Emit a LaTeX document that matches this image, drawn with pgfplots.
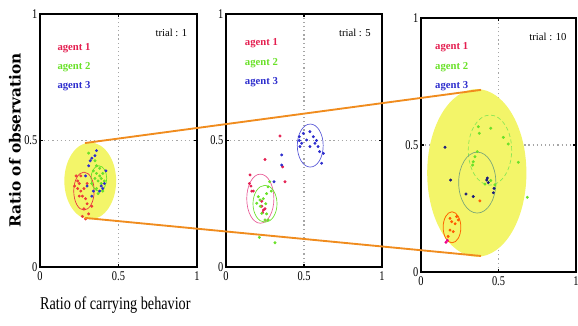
\documentclass[border=0pt]{standalone}
\usepackage{graphicx}
\usepackage{fontspec}
\setmainfont{Liberation Serif}
\newfontfamily\labelfont{DejaVu Serif}
\usepackage{pgfplots}
\pgfplotsset{compat=1.18}

\definecolor{agentA}{RGB}{228,30,80}
\definecolor{agentB}{RGB}{105,225,40}
\definecolor{agentC}{RGB}{45,45,205}
\definecolor{highlight}{RGB}{243,245,105}
\definecolor{connector}{RGB}{240,140,30}
\definecolor{ringA}{RGB}{232,90,150}
\definecolor{ringC}{RGB}{120,165,120}

\newcommand{\tl}[1]{\scalebox{0.78}[1]{#1}}

\tikzset{
  legtext/.style={anchor=west, font=\fontsize{8}{9}\selectfont\bfseries, inner sep=0pt},
  trialtext/.style={anchor=east, font=\fontsize{8}{9}\selectfont, inner sep=0pt},
}

\pgfplotsset{
  panel/.style={
    scale only axis,
    xmin=0, xmax=1, ymin=0, ymax=1,
    xtick={0,0.5,1}, ytick={0,0.5,1},
    xticklabels={\tl{0},\tl{0.5},\tl{1}},
    yticklabels={\tl{0},\tl{0.5},\tl{1}},
    ticklabel style={font=\fontsize{10}{11}\selectfont},
    yticklabel style={xshift=1.5pt},
    grid=major,
    grid style={gray!70, line width=0.9pt, dash pattern=on 0.9pt off 2.2pt},
    axis line style={line width=1.3pt},
    tick style={black, line width=1.2pt},
    major tick length=2pt,
    tick align=inside,
    clip=false,
  },
  agent/.style={only marks, mark=*, mark size=0.9pt, color=#1},
}

\begin{document}
\begin{tikzpicture}
\path[use as bounding box] (0,0) rectangle (433.5pt,243.75pt);

% ---------------- trial 1 ----------------
\begin{axis}[panel, at={(30pt,43.5pt)}, anchor=south west,
  width=117.75pt, height=189.75pt]
  \fill[highlight] (axis cs:0.32,0.34) ellipse [x radius=0.165, y radius=0.152];
  \draw[agentA!80!orange, line width=0.5pt] (axis cs:0.28,0.30) ellipse [x radius=0.065, y radius=0.075];
  \draw[agentB, line width=0.5pt] (axis cs:0.375,0.35) ellipse [x radius=0.05, y radius=0.05];
  \addplot[agent=agentA!70!orange] coordinates {
    (0.23,0.36) (0.24,0.34) (0.22,0.32) (0.24,0.31) (0.25,0.33) (0.26,0.30)
    (0.27,0.28) (0.25,0.28) (0.28,0.31) (0.29,0.27) (0.30,0.25) (0.28,0.23)
    (0.31,0.21) (0.29,0.19) (0.27,0.20) (0.33,0.24) (0.26,0.36) (0.30,0.33)
  };
  \addplot[agent=agentB] coordinates {
    (0.34,0.38) (0.36,0.40) (0.38,0.39) (0.40,0.37) (0.35,0.35) (0.37,0.34)
    (0.39,0.33) (0.36,0.31) (0.41,0.34) (0.33,0.33) (0.38,0.36) (0.35,0.42)
    (0.31,0.45) (0.40,0.30) (0.37,0.29) (0.36,0.37) (0.39,0.35)
  };
  \addplot[agent=agentC] coordinates {
    (0.32,0.42) (0.33,0.43) (0.35,0.44) (0.31,0.40) (0.39,0.32) (0.40,0.31)
    (0.38,0.30) (0.41,0.33) (0.30,0.32) (0.34,0.30) (0.42,0.38) (0.36,0.46)
    (0.29,0.36) (0.33,0.28)
  };
  \node[legtext, text=agentA] at (rel axis cs:0.11,0.866) {agent 1};
  \node[legtext, text=agentB] at (rel axis cs:0.11,0.79) {agent 2};
  \node[legtext, text=agentC] at (rel axis cs:0.11,0.715) {agent 3};
  \node[trialtext] at (rel axis cs:0.94,0.925) {trial : 1};
  \coordinate (startTop) at (axis cs:0.287,0.49);
  \coordinate (startBot) at (axis cs:0.287,0.194);
  \node[rotate=90, font=\labelfont\bfseries\fontsize{11.5}{13}\selectfont]
    at (rel axis cs:-0.16,0.5) {Ratio of observation};
  \node[font=\fontsize{13.5}{15}\selectfont]
    at (rel axis cs:0.48,-0.15) {\scalebox{0.79}[1]{Ratio of carrying behavior}};
\end{axis}

% ---------------- trial 5 ----------------
\begin{axis}[panel, at={(169.5pt,43.5pt)}, anchor=south west,
  width=117pt, height=189.75pt]
  \draw[ringA, line width=0.5pt] (axis cs:0.22,0.27) ellipse [x radius=0.087, y radius=0.097];
  \draw[agentB, line width=0.5pt] (axis cs:0.25,0.25) ellipse [x radius=0.077, y radius=0.073];
  \draw[agentC!80, line width=0.5pt] (axis cs:0.54,0.48) ellipse [x radius=0.083, y radius=0.085];
  \addplot[agent=agentA] coordinates {
    (0.154,0.364) (0.15,0.33) (0.165,0.30) (0.175,0.30) (0.229,0.24) (0.24,0.225)
    (0.25,0.23) (0.229,0.26) (0.346,0.518) (0.25,0.425) (0.378,0.337) (0.363,0.396)
    (0.16,0.32) (0.235,0.215)
  };
  \addplot[agent=agentB] coordinates {
    (0.207,0.278) (0.218,0.265) (0.239,0.27) (0.26,0.29) (0.27,0.317) (0.28,0.337)
    (0.229,0.212) (0.25,0.186) (0.27,0.186) (0.214,0.117) (0.314,0.096) (0.197,0.252)
    (0.29,0.30) (0.22,0.24) (0.255,0.25) (0.26,0.21)
  };
  \addplot[agent=agentC] coordinates {
    (0.47,0.515) (0.474,0.476) (0.496,0.528) (0.517,0.502) (0.538,0.535) (0.56,0.515)
    (0.57,0.489) (0.59,0.476) (0.60,0.456) (0.624,0.449) (0.613,0.41) (0.538,0.476)
    (0.357,0.443) (0.357,0.403) (0.308,0.337) (0.485,0.489) (0.47,0.50) (0.58,0.50)
  };
  \node[legtext, text=agentA] at (rel axis cs:0.12,0.885) {agent 1};
  \node[legtext, text=agentB] at (rel axis cs:0.12,0.806) {agent 2};
  \node[legtext, text=agentC] at (rel axis cs:0.12,0.73) {agent 3};
  \node[trialtext] at (rel axis cs:0.93,0.925) {trial : 5};
\end{axis}

% ---------------- trial 10 ----------------
\begin{axis}[panel, at={(315.75pt,39.75pt)}, anchor=south west,
  width=116.25pt, height=190.5pt, axis line style={line width=1.8pt}]
  \fill[highlight] (axis cs:0.36,0.39) ellipse [x radius=0.32, y radius=0.33];
  \draw[agentB!80, line width=0.5pt, densely dashed] (axis cs:0.445,0.48) ellipse [x radius=0.14, y radius=0.138];
  \draw[ringC, line width=0.5pt] (axis cs:0.363,0.352) ellipse [x radius=0.12, y radius=0.12];
  \draw[orange!80!red, line width=0.6pt] (axis cs:0.2,0.176) ellipse [x radius=0.057, y radius=0.061];
  \addplot[agent=agentB] coordinates {
    (0.37,0.572) (0.376,0.546) (0.45,0.566) (0.531,0.53) (0.563,0.504) (0.628,0.432)
    (0.363,0.474) (0.348,0.454) (0.337,0.434) (0.333,0.421) (0.413,0.346) (0.477,0.343)
    (0.686,0.294) (0.45,0.36)
  };
  \addplot[agent=agentC!60!black] coordinates {
    (0.155,0.491) (0.191,0.362) (0.29,0.307) (0.337,0.297) (0.424,0.362) (0.434,0.352)
    (0.471,0.329) (0.467,0.312) (0.428,0.37)
  };
  \addplot[agent=orange!70!red] coordinates {
    (0.38,0.28) (0.187,0.211) (0.198,0.198) (0.23,0.218) (0.241,0.205) (0.187,0.165)
    (0.208,0.159) (0.175,0.14) (0.22,0.19)
  };
  \addplot[agent=magenta] coordinates {(0.161,0.117) (0.17,0.125)};
  \node[legtext, text=agentA] at (rel axis cs:0.09,0.886) {agent 1};
  \node[legtext, text=agentB] at (rel axis cs:0.09,0.807) {agent 2};
  \node[legtext, text=agentC] at (rel axis cs:0.09,0.732) {agent 3};
  \node[trialtext] at (rel axis cs:0.94,0.925) {trial : 10};
  \coordinate (endTop) at (axis cs:0.387,0.717);
  \coordinate (endBot) at (axis cs:0.387,0.063);
\end{axis}

% magnification guides from trial 1 to trial 10
\draw[connector, line width=1.4pt] (startTop) -- (endTop);
\draw[connector, line width=1.4pt] (startBot) -- (endBot);
\end{tikzpicture}
\end{document}
